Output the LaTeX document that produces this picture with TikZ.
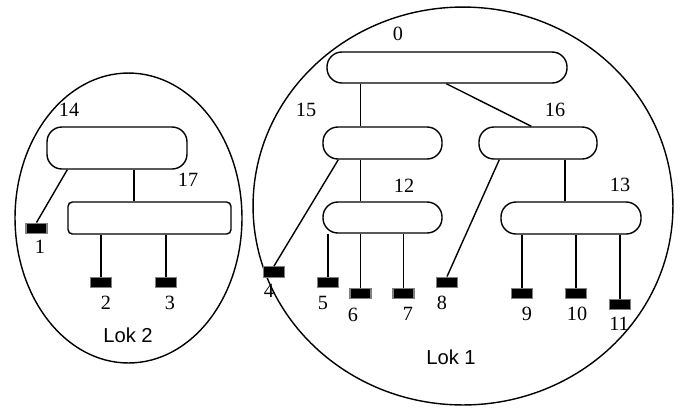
\documentclass[tikz,border=0pt]{standalone}
\usepackage{fontspec}
\setmainfont{Liberation Serif}
\setsansfont{Liberation Sans}
\usetikzlibrary{positioning,fit,calc,shapes.geometric}

\begin{document}
\begin{tikzpicture}[
	x=0.02cm, y=-0.02cm,
	line width=0.8pt,
	every node/.style={ black,
                        font=\fontsize{11.5}{13}\selectfont,
                        inner sep=0pt
                        },
	proc/.style= {draw,
    			  rounded corners=8.5pt,
                  inner sep=0pt
    },
	flat/.style= {proc, rounded corners=2.5pt},
	term/.style= {draw=gray, fill=black,
                  minimum width=0.42cm, minimum height=0.21cm
    },
	zone/.style= {draw, ellipse},
	lok/.style= {font=\fontsize{11.5}{13}\selectfont\sffamily}
]
	\useasboundingbox (0,0) rectangle (683,407);
	% locations
	\node (zone1) [zone, minimum width=8.4cm, minimum height=7.96cm] at (463,206) {};
	\node (zone2) [zone, minimum width=4.54cm, minimum height=5.8cm] at (128.5,218) {};
	\node (lok1) [lok] at (451,357) {Lok 1};
	\node (lok2) [lok] at (128,335) {Lok 2};

	% switches
	\node (n0) [proc, fit={(327,52) (567,83)}] {};
	\node (n15) [proc, fit={(323,127) (442,159)}] {};
	\node (n12) [proc, fit={(323,202) (442,233)}] {};
	\node (n16) [proc, fit={(479,127) (597,159)}] {};
	\node (n13) [proc, fit={(501,202) (641,234)}] {};
	\node (n14) [proc, fit={(47,127) (187,169)}] {};
	\node (n17) [flat, fit={(68,202) (231,234)}] {};

	\node (l0) at (398,34) {0};
	\node (l15) at (306,110) {15};
	\node (l12) at (404,186) {12};
	\node (l16) at (555,110) {16};
	\node (l13) at (620,185) {13};
	\node (l14) at (69,110) {14};
	\node (l17) at (188,180) {17};

	% hosts
	\foreach \name/\x/\y/\lx/\ly in {1/36.5/228.5/40/247, 2/101/282.5/106/303, 3/166/282.5/170/303,
		4/274/272/269/291, 5/328/282.5/323/303, 6/360.5/293.5/353/315, 7/403.5/293.5/408/314,
		8/447/282.5/442/303, 9/522/293.5/527/314, 10/576/293.5/577/314, 11/620/304.5/619/324}
	{
		\node (t\name) [term] at (\x,\y) {};
		\node (lt\name) at (\lx,\ly) {\name};
	}

	\coordinate (j14) at (134,0);
	\coordinate (j16) at (565,0);

	% links
	\draw (n0.south -| t6) -- (n15.north -| t6);
	\draw (n15.south -| t6) -- (n12.north -| t6);
	\draw (n12.south -| t6) -- (t6.north);
	\draw ($(n0.south west)+(120,0)$) -- ($(n16.north west)+(53,0)$);
	\draw ($(n15.south west)+(16,0)$) -- (t4.north);
	\draw (t5.north |- n12.south) -- (t5.north);
	\draw (t7.north |- n12.south) -- (t7.north);
	\draw ($(n16.south west)+(21,0)$) -- (t8.north);
	\draw (n16.south -| j16) -- (n13.north -| j16);
	\draw (t9.north |- n13.south) -- (t9.north);
	\draw (t10.north |- n13.south) -- (t10.north);
	\draw (t11.north |- n13.south) -- (t11.north);
	\draw (n14.south -| j14) -- (n17.north -| j14);
	\draw ($(n14.south west)+(21,0)$) -- (t1.north);
	\draw (t2.north |- n17.south) -- (t2.north);
	\draw (t3.north |- n17.south) -- (t3.north);

\end{tikzpicture}
\end{document}
